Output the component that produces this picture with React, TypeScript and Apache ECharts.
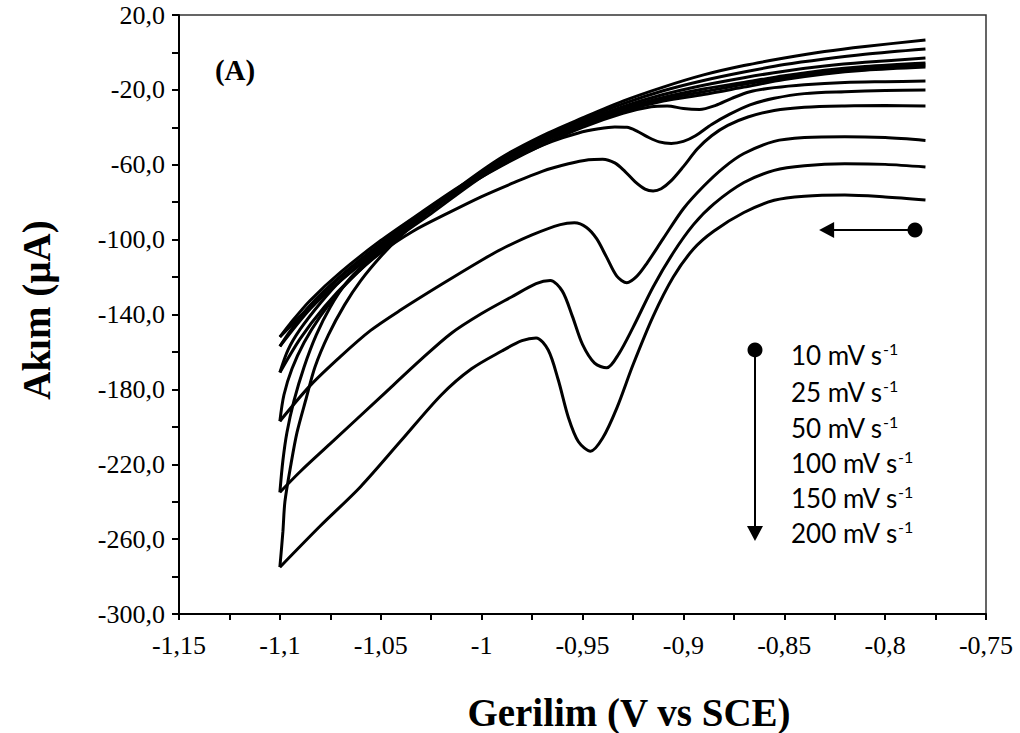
import React, { useEffect, useRef } from "react";
import * as echarts from "echarts";

// Scan rates (mV/s)
const scanRates = [10, 25, 50, 100, 150, 200];

// Forward (cathodic) branches: [potential (V vs SCE), current (µA)]
const fwd10 = [
  [-0.78, -15.3], [-0.8, -15.6], [-0.82, -16], [-0.84, -17.2], [-0.855, -18.8],
  [-0.867, -21], [-0.876, -24.5], [-0.884, -28.3], [-0.892, -30.5], [-0.9, -30],
  [-0.908, -28.6], [-0.916, -29], [-0.93, -32.5], [-0.95, -40], [-0.97, -49.5],
  [-0.99, -60.5], [-1.01, -73], [-1.03, -88], [-1.05, -103], [-1.07, -120],
  [-1.085, -135.5], [-1.1, -152],
];
const ret10 = [
  [-1.1, -152], [-1.095, -145], [-1.085, -132.5], [-1.07, -117.5], [-1.05, -100.5],
  [-1.03, -85.5], [-1.01, -71], [-0.99, -58.5], [-0.97, -48], [-0.95, -39],
  [-0.93, -31.5], [-0.91, -26], [-0.89, -22.5], [-0.87, -18.5], [-0.85, -14.5],
  [-0.83, -11.5], [-0.81, -9.5], [-0.78, -7.8],
];

const fwd25 = [
  [-0.78, -20.1], [-0.8, -20.4], [-0.82, -21], [-0.84, -22], [-0.855, -24.5],
  [-0.867, -28], [-0.877, -33], [-0.886, -38.5], [-0.894, -44.5], [-0.9, -47.5],
  [-0.906, -48.6], [-0.912, -47.8], [-0.918, -45], [-0.923, -42], [-0.928, -40],
  [-0.934, -39.8], [-0.942, -40.8], [-0.952, -43], [-0.965, -47.5], [-0.98, -54.5],
  [-1.0, -66.5], [-1.025, -86], [-1.05, -105], [-1.07, -122], [-1.085, -137],
  [-1.1, -157],
];
const ret25 = [
  [-1.1, -157], [-1.095, -149], [-1.085, -135], [-1.07, -119.5], [-1.05, -102],
  [-1.03, -86], [-1.01, -71.5], [-0.99, -58.5], [-0.97, -47.5], [-0.95, -38.5],
  [-0.93, -30.5], [-0.91, -25], [-0.89, -21], [-0.87, -17], [-0.85, -13.5],
  [-0.83, -10.7], [-0.81, -8.5], [-0.78, -6.7],
];

const fwd50 = [
  [-0.78, -28.6], [-0.8, -28.4], [-0.82, -28.6], [-0.84, -29.3], [-0.855, -31],
  [-0.868, -34.5], [-0.878, -39], [-0.886, -44.5], [-0.893, -51.5], [-0.9, -61],
  [-0.906, -68.5], [-0.911, -72.8], [-0.915, -74], [-0.919, -73], [-0.924, -69],
  [-0.929, -63.5], [-0.934, -59], [-0.94, -57], [-0.947, -57.3], [-0.957, -59.5],
  [-0.97, -63.5], [-0.985, -70], [-1.0, -77], [-1.017, -86], [-1.034, -95.5],
  [-1.05, -107], [-1.065, -121], [-1.078, -136], [-1.09, -153], [-1.1, -171],
];
const ret50 = [
  [-1.1, -171], [-1.096, -159], [-1.09, -148], [-1.08, -134], [-1.07, -122],
  [-1.05, -104], [-1.03, -87], [-1.01, -72], [-0.99, -58.5], [-0.97, -47],
  [-0.95, -38], [-0.93, -30], [-0.91, -24], [-0.89, -19.5], [-0.87, -16],
  [-0.85, -12.5], [-0.83, -9.5], [-0.81, -7.5], [-0.78, -5.6],
];

const fwd100 = [
  [-0.78, -47], [-0.8, -45.5], [-0.82, -45], [-0.84, -45.5], [-0.855, -47.5],
  [-0.87, -54], [-0.88, -61.5], [-0.89, -71.5], [-0.9, -83.5], [-0.91, -99.5],
  [-0.918, -112.5], [-0.923, -119.5], [-0.928, -123], [-0.933, -119.5], [-0.938, -109.5],
  [-0.943, -99.5], [-0.948, -93.5], [-0.954, -91], [-0.961, -92], [-0.975, -97.5],
  [-0.99, -105], [-1.0, -111], [-1.02, -124], [-1.04, -137.5], [-1.055, -148.5],
  [-1.07, -162.5], [-1.085, -178], [-1.1, -197],
];
const ret100 = [
  [-1.1, -197], [-1.098, -183], [-1.094, -169], [-1.088, -155], [-1.08, -141],
  [-1.07, -127], [-1.06, -116], [-1.05, -106], [-1.03, -88], [-1.01, -72],
  [-0.99, -58], [-0.97, -46.5], [-0.95, -37], [-0.93, -29], [-0.91, -22.5],
  [-0.89, -17.5], [-0.87, -13.5], [-0.85, -10], [-0.83, -7.3], [-0.81, -5.3],
  [-0.78, -3],
];

const fwd150 = [
  [-0.78, -61.2], [-0.8, -59.8], [-0.82, -59.5], [-0.84, -60.5], [-0.855, -63],
  [-0.87, -69.5], [-0.885, -81], [-0.895, -92], [-0.905, -107], [-0.915, -125.3],
  [-0.925, -147], [-0.932, -161], [-0.938, -168.5], [-0.944, -166], [-0.95, -156],
  [-0.955, -141], [-0.96, -127.5], [-0.966, -121.8], [-0.973, -123.5], [-0.985, -130.5],
  [-1.0, -139.5], [-1.015, -150], [-1.03, -164], [-1.05, -184], [-1.075, -209],
  [-1.09, -224], [-1.1, -235],
];
const ret150 = [
  [-1.1, -235], [-1.0985, -218], [-1.0965, -203], [-1.093, -186], [-1.088, -168],
  [-1.082, -151], [-1.075, -136], [-1.067, -123], [-1.058, -113], [-1.05, -106.5],
  [-1.03, -88], [-1.01, -71.5], [-0.99, -57], [-0.97, -45.5], [-0.95, -36],
  [-0.93, -27.5], [-0.91, -20.5], [-0.89, -15], [-0.87, -10.5], [-0.85, -6.5],
  [-0.83, -3.5], [-0.81, -1], [-0.78, 1.8],
];

const fwd200 = [
  [-0.78, -78.8], [-0.8, -77.2], [-0.82, -76.2], [-0.84, -76.8], [-0.855, -79],
  [-0.87, -85.5], [-0.885, -95.5], [-0.895, -105], [-0.905, -120], [-0.915, -141],
  [-0.925, -167], [-0.933, -190], [-0.94, -206], [-0.946, -213], [-0.952, -208],
  [-0.957, -195], [-0.962, -175], [-0.967, -159], [-0.973, -152.5], [-0.98, -154],
  [-0.99, -159.5], [-1.005, -169], [-1.02, -183], [-1.04, -207.5], [-1.06, -232],
  [-1.08, -253], [-1.1, -275],
];
const ret200 = [
  [-1.1, -275], [-1.0985, -256], [-1.0975, -240], [-1.0945, -220], [-1.0915, -203],
  [-1.087, -185], [-1.0826, -168], [-1.076, -151], [-1.068, -135], [-1.06, -122],
  [-1.05, -109], [-1.04, -98], [-1.025, -84], [-1.01, -71], [-0.99, -56],
  [-0.97, -44.5], [-0.95, -35], [-0.93, -26], [-0.91, -18.5], [-0.89, -12],
  [-0.87, -7], [-0.85, -3], [-0.83, 0.5], [-0.81, 3.2], [-0.78, 6.6],
];

const forwardBranches = [fwd10, fwd25, fwd50, fwd100, fwd150, fwd200];
const returnBranches = [ret10, ret25, ret50, ret100, ret150, ret200];

// Annotation arrows (data coordinates)
const scanDirArrow = [[-0.7852, -94.85], [-0.829, -94.85]];
const rateArrow = [[-0.8645, -158.9], [-0.8645, -257]];

const SERIF = "Liberation Serif";
const SANS = "Lato";

export default function App() {
  const ref = useRef<HTMLDivElement>(null);

  useEffect(() => {
    if (!ref.current) return;
    const chart = echarts.init(ref.current, null, { renderer: "svg" });

    const lineStyle = { color: "#000", width: 3 };
    const series: any[] = [];
    scanRates.forEach((rate, i) => {
      [forwardBranches[i], returnBranches[i]].forEach((branch, j) => {
        series.push({
          name: `${rate} mV/s ${j === 0 ? "forward" : "return"}`,
          type: "line",
          data: branch,
          showSymbol: false,
          symbol: "none",
          smooth: 0.3,
          lineStyle,
          silent: true,
        });
      });
    });
    series.push({
      name: "arrows",
      type: "line",
      data: [],
      showSymbol: false,
      silent: true,
      markLine: {
        silent: true,
        animation: false,
        symbol: ["circle", "triangle"],
        symbolSize: [16, 15],
        lineStyle: { color: "#000", width: 2, type: "solid" },
        label: { show: false },
        emphasis: { disabled: true },
        data: [
          [{ coord: scanDirArrow[0] }, { coord: scanDirArrow[1] }],
          [{ coord: rateArrow[0] }, { coord: rateArrow[1] }],
        ],
      },
    });

    const legendTop = [355, 392, 428, 463, 498, 533];
    const graphics: any[] = scanRates.map((rate, i) => ({
      type: "text",
      x: 791,
      y: legendTop[i],
      silent: true,
      style: {
        text: `{a|${rate} mV s}{b|-1}`,
        align: "left",
        verticalAlign: "middle",
        rich: {
          a: { fontSize: 26, fontFamily: SANS, fill: "#000", color: "#000", lineHeight: 30 },
          b: { fontSize: 16, fontFamily: SANS, fill: "#000", color: "#000", lineHeight: 22, verticalAlign: "top" },
        },
      },
    }));
    graphics.push({
      type: "text",
      x: 235,
      y: 70,
      silent: true,
      style: { text: "(A)", align: "center", verticalAlign: "middle", fontFamily: SERIF, fontWeight: "bold", fontSize: 29, fill: "#000" },
    });
    graphics.push({
      type: "text",
      x: 629,
      y: 712,
      silent: true,
      style: { text: "Gerilim (V vs SCE)", align: "center", verticalAlign: "middle", fontFamily: SERIF, fontWeight: "bold", fontSize: 39, fill: "#000" },
    });
    graphics.push({
      type: "text",
      x: 36,
      y: 310,
      rotation: Math.PI / 2,
      silent: true,
      style: { text: "Akım (µA)", align: "center", verticalAlign: "middle", fontFamily: SERIF, fontWeight: "bold", fontSize: 39, fill: "#000" },
    });

    const tickLabelRich = { s: { fontFamily: SERIF, fontSize: 26, color: "#000" } };

    chart.setOption({
      animation: false,
      backgroundColor: "#fff",
      textStyle: { fontFamily: SERIF },
      grid: {
        left: 179,
        top: 15,
        right: 34,
        bottom: 119,
        show: true,
        borderColor: "#333",
        borderWidth: 1.5,
        containLabel: false,
      },
      xAxis: {
        type: "value",
        min: -1.15,
        max: -0.75,
        interval: 0.025,
        axisLine: { show: true, onZero: false, lineStyle: { color: "#000", width: 2 } },
        axisTick: { show: true, inside: false, length: 6, lineStyle: { color: "#000", width: 2 } },
        splitLine: { show: false },
        axisLabel: {
          margin: 18,
          fontSize: 26,
          fontFamily: SERIF,
          color: "#000",
          showMinLabel: true,
          showMaxLabel: true,
          rich: tickLabelRich,
          formatter: (v: number) => {
            const k = Math.round(v * 1000);
            if (k % 50 !== 0) return "";
            return `{s|${String(k / 1000).replace(".", ",")}}`;
          },
        },
      },
      yAxis: {
        type: "value",
        min: -300,
        max: 20,
        interval: 20,
        axisLine: { show: true, onZero: false, lineStyle: { color: "#000", width: 2 } },
        axisTick: { show: true, inside: false, length: 7, lineStyle: { color: "#000", width: 2 } },
        splitLine: { show: false },
        axisLabel: {
          margin: 14,
          fontSize: 26,
          fontFamily: SERIF,
          color: "#000",
          showMinLabel: true,
          showMaxLabel: true,
          rich: tickLabelRich,
          formatter: (v: number) => {
            const k = Math.round(v);
            if ((k - 20) % 40 !== 0) return "";
            return `{s|${k.toFixed(1).replace(".", ",")}}`;
          },
        },
      },
      graphic: graphics,
      series,
    });

    return () => chart.dispose();
  }, []);

  return (
    <div
      ref={ref}
      style={{ position: "absolute", left: 0, top: 0, width: 1020, height: 733, background: "#fff" }}
    />
  );
}
